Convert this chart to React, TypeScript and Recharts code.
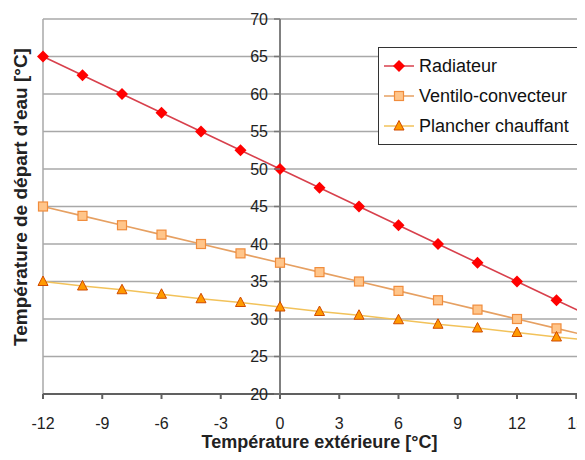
import React from 'react';
import { LineChart, Line, XAxis, YAxis, CartesianGrid, ReferenceLine } from 'recharts';

// outside temperature (°C)
const temperatures = [-12, -10, -8, -6, -4, -2, 0, 2, 4, 6, 8, 10, 12, 14, 16];
// supply water temperature (°C)
const radiateur = [65, 62.5, 60, 57.5, 55, 52.5, 50, 47.5, 45, 42.5, 40, 37.5, 35, 32.5, 30];
const ventilo = [45, 43.75, 42.5, 41.25, 40, 38.75, 37.5, 36.25, 35, 33.75, 32.5, 31.25, 30, 28.75, 27.5];
const plancher = [35, 34.4, 33.9, 33.3, 32.7, 32.2, 31.6, 31.0, 30.5, 29.9, 29.3, 28.8, 28.2, 27.6, 27.1];

const xTicks = [-12, -9, -6, -3, 0, 3, 6, 9, 12, 15];
const yTicks = [20, 25, 30, 35, 40, 45, 50, 55, 60, 65, 70];

const data = temperatures.map((t, i) => ({
  t,
  radiateur: radiateur[i],
  ventilo: ventilo[i],
  plancher: plancher[i],
}));

const FONT = '"Liberation Sans", Arial, sans-serif';
const CHART_W = 610;
const CHART_H = 460;
const MARGIN = { top: 19, right: 14, left: 42, bottom: 4 };
const Y_AXIS_W = 1;
const X_MIN = -12;
const X_MAX = 16;
const PLOT_LEFT = MARGIN.left + Y_AXIS_W;
const PLOT_W = CHART_W - PLOT_LEFT - MARGIN.right;
// pixel column of x = 0, where the value axis sits
const AXIS_X = PLOT_LEFT + ((0 - X_MIN) / (X_MAX - X_MIN)) * PLOT_W;

const COLORS = {
  radLine: '#d8404c',
  radDot: '#ff0000',
  venLine: '#e6a062',
  venFill: '#ffc58a',
  venStroke: '#f08c3c',
  plaLine: '#f2c25a',
  plaFill: '#ff9a00',
  plaStroke: '#d04a00',
};

const Diamond = ({ cx, cy }: { cx: number; cy: number }) => (
  <polygon points={`${cx},${cy - 6} ${cx + 6},${cy} ${cx},${cy + 6} ${cx - 6},${cy}`} fill={COLORS.radDot} />
);
const Square = ({ cx, cy }: { cx: number; cy: number }) => (
  <rect x={cx - 4.5} y={cy - 4.5} width={9} height={9} fill={COLORS.venFill} stroke={COLORS.venStroke} strokeWidth={1.2} />
);
const Triangle = ({ cx, cy }: { cx: number; cy: number }) => (
  <polygon
    points={`${cx},${cy - 5.5} ${cx + 5},${cy + 4} ${cx - 5},${cy + 4}`}
    fill={COLORS.plaFill}
    stroke={COLORS.plaStroke}
    strokeWidth={1}
  />
);

const YTick = (props: any) => {
  const { y, payload } = props;
  return (
    <g>
      <line x1={AXIS_X - 6} y1={y} x2={AXIS_X} y2={y} stroke="#777" strokeWidth={1.5} />
      <text x={AXIS_X - 12} y={y} dy="0.36em" textAnchor="end" fontSize={16} fill="#222" fontFamily={FONT}>
        {payload.value}
      </text>
    </g>
  );
};

const legendItems = [
  { name: 'Radiateur', line: COLORS.radLine, Marker: Diamond },
  { name: 'Ventilo-convecteur', line: COLORS.venLine, Marker: Square },
  { name: 'Plancher chauffant', line: COLORS.plaLine, Marker: Triangle },
];

const ChartLegend = () => (
  <div
    style={{
      position: 'absolute',
      top: 47,
      left: 378,
      width: 204,
      border: '1.5px solid #333',
      background: '#fff',
      padding: '3px 0 3px 5px',
      fontFamily: FONT,
      fontSize: 18,
      color: '#111',
      boxSizing: 'border-box',
    }}
  >
    {legendItems.map(({ name, line, Marker }) => (
      <div key={name} style={{ display: 'flex', alignItems: 'center', height: 30 }}>
        <svg width={30} height={14} style={{ marginRight: 5 }}>
          <line x1={0} y1={7} x2={30} y2={7} stroke={line} strokeWidth={1.5} />
          <Marker cx={15} cy={7} />
        </svg>
        <span style={{ whiteSpace: 'nowrap' }}>{name}</span>
      </div>
    ))}
  </div>
);

export default function App() {
  return (
    <div
      style={{
        margin: -8,
        width: 585,
        height: 460,
        overflow: 'hidden',
        position: 'relative',
        background: '#fff',
        fontFamily: FONT,
      }}
    >
      <LineChart width={CHART_W} height={CHART_H} data={data} margin={MARGIN}>
        <CartesianGrid vertical={false} stroke="#a8a8a8" strokeWidth={1.5} horizontalValues={yTicks} />
        <ReferenceLine x={-12} stroke="#a8a8a8" strokeWidth={1.5} />
        <ReferenceLine x={0} stroke="#808080" strokeWidth={2} />
        <XAxis
          dataKey="t"
          type="number"
          domain={[X_MIN, X_MAX]}
          ticks={xTicks}
          height={62}
          stroke="#606060"
          strokeWidth={2}
          tickSize={5}
          tickMargin={19}
          tick={{ fontSize: 16, fill: '#222', fontFamily: FONT }}
          label={{
            value: 'Température extérieure [°C]',
            position: 'insideBottom',
            offset: 8,
            style: { fontSize: 18, fontWeight: 'bold', fill: '#222', fontFamily: FONT },
          }}
        />
        <YAxis
          type="number"
          domain={[20, 70]}
          ticks={yTicks}
          width={Y_AXIS_W}
          axisLine={false}
          tickLine={false}
          tick={<YTick />}
        />
        <Line
          name="Radiateur"
          dataKey="radiateur"
          stroke={COLORS.radLine}
          strokeWidth={1.6}
          dot={(p: any) => <Diamond key={`r${p.index}`} cx={p.cx} cy={p.cy} />}
          isAnimationActive={false}
        />
        <Line
          name="Ventilo-convecteur"
          dataKey="ventilo"
          stroke={COLORS.venLine}
          strokeWidth={1.6}
          dot={(p: any) => <Square key={`v${p.index}`} cx={p.cx} cy={p.cy} />}
          isAnimationActive={false}
        />
        <Line
          name="Plancher chauffant"
          dataKey="plancher"
          stroke={COLORS.plaLine}
          strokeWidth={1.6}
          dot={(p: any) => <Triangle key={`p${p.index}`} cx={p.cx} cy={p.cy} />}
          isAnimationActive={false}
        />
      </LineChart>
      <ChartLegend />
      <div
        style={{
          position: 'absolute',
          left: 21,
          top: 197,
          transform: 'translate(-50%, -50%) rotate(-90deg)',
          whiteSpace: 'nowrap',
          fontSize: 19,
          fontWeight: 'bold',
          color: '#222',
        }}
      >
        Température de départ d'eau [°C]
      </div>
    </div>
  );
}
